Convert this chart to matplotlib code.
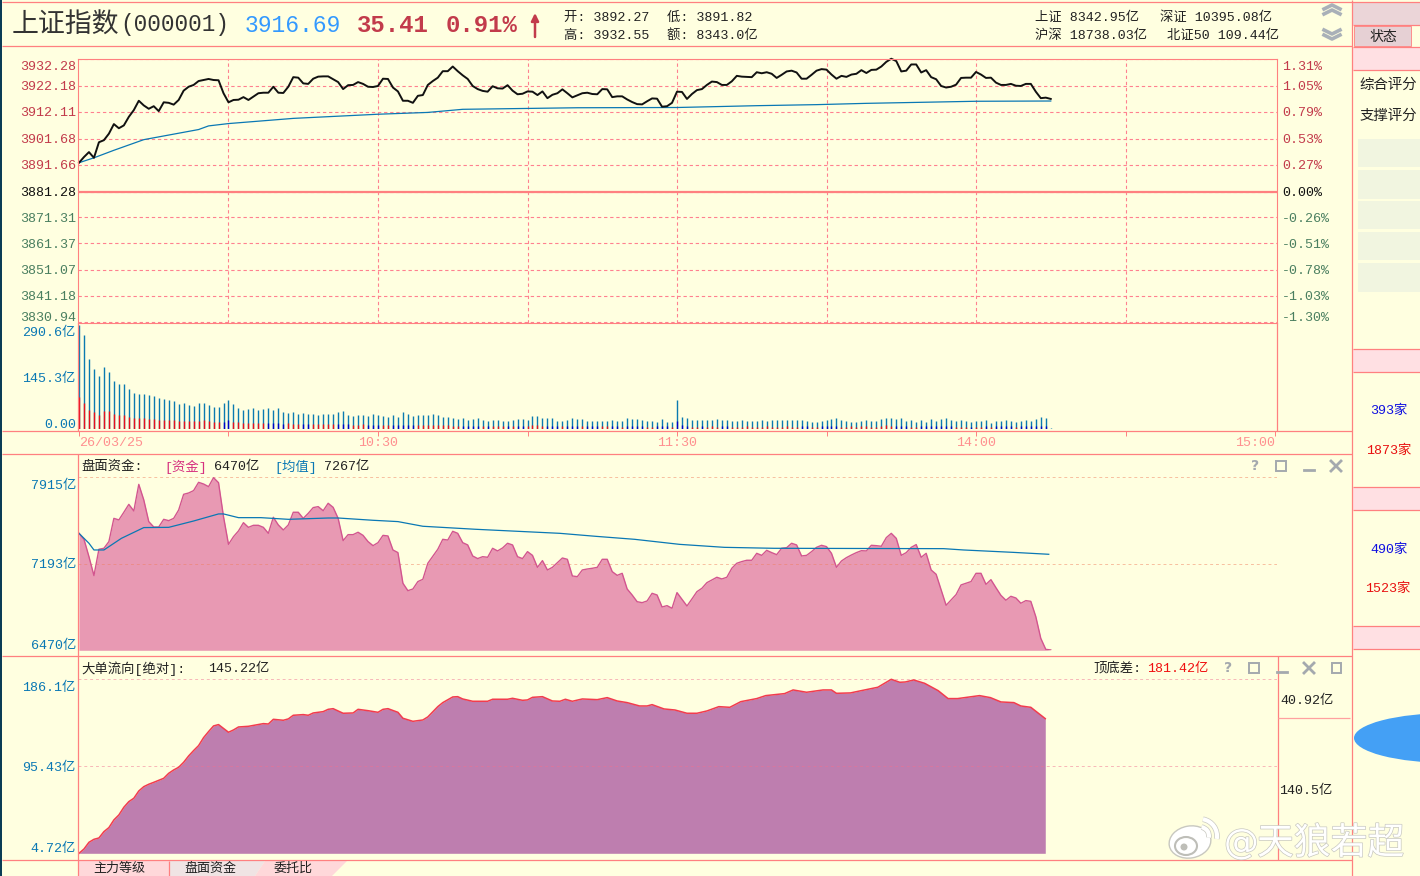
import numpy as np
import matplotlib
matplotlib.use("Agg")
import matplotlib.pyplot as plt
from matplotlib.patches import Rectangle, Ellipse, Polygon, Arc
from matplotlib.transforms import Affine2D
import matplotlib.patheffects as pe

# 分时价格, 每分钟一个点
price = [3892.4, 3894.6, 3896.5, 3894.3, 3900.3, 3901.1, 3903.6, 3907.3, 3905.7, 3906.8,
         3910.1, 3912.7, 3916.3, 3914.5, 3913.2, 3914.2, 3912.3, 3915.7, 3915.5, 3914.8,
         3916.6, 3920.2, 3921.7, 3922.4, 3923.9, 3924.3, 3924.7, 3924.3, 3924.2, 3919.2,
         3915.7, 3916.6, 3916.7, 3917.7, 3916.6, 3917.9, 3919.2, 3919.4, 3919.4, 3921.7,
         3919.4, 3919.3, 3921.7, 3925.4, 3925.2, 3923.0, 3922.8, 3924.8, 3925.6, 3925.7,
         3925.7, 3924.6, 3923.5, 3920.8, 3922.3, 3922.4, 3923.5, 3922.8, 3921.7, 3921.6,
         3922.0, 3924.8, 3924.7, 3921.4, 3919.9, 3916.3, 3916.3, 3915.5, 3918.2, 3918.5,
         3922.4, 3923.9, 3925.2, 3927.7, 3927.7, 3929.5, 3927.7, 3926.1, 3924.7, 3922.0,
         3920.8, 3920.1, 3919.8, 3921.9, 3921.1, 3921.0, 3922.3, 3920.2, 3918.8, 3919.0,
         3919.9, 3919.8, 3918.5, 3919.9, 3917.3, 3918.6, 3919.2, 3920.7, 3919.2, 3917.6,
         3918.4, 3919.2, 3919.4, 3918.9, 3918.8, 3920.8, 3920.7, 3917.7, 3918.0, 3918.0,
         3916.8, 3915.8, 3915.0, 3914.9, 3916.1, 3917.2, 3917.1, 3914.0, 3914.2, 3915.5,
         3919.8, 3919.7, 3917.0, 3918.9, 3920.4, 3920.8, 3922.4, 3923.7, 3923.5, 3922.4,
         3922.4, 3923.8, 3925.9, 3925.6, 3925.5, 3925.4, 3927.3, 3926.9, 3927.3, 3926.7,
         3925.1, 3926.3, 3927.6, 3927.9, 3927.2, 3924.8, 3924.8, 3926.3, 3927.9, 3928.5,
         3928.3, 3926.4, 3924.8, 3925.9, 3925.5, 3926.4, 3926.7, 3928.1, 3927.0, 3928.2,
         3928.3, 3929.5, 3931.3, 3932.5, 3931.6, 3927.6, 3927.9, 3930.3, 3930.3, 3927.2,
         3928.1, 3925.4, 3924.6, 3922.0, 3921.4, 3921.7, 3922.5, 3925.1, 3925.2, 3925.2,
         3927.4, 3926.4, 3925.1, 3925.2, 3923.3, 3922.4, 3922.4, 3922.8, 3922.1, 3922.0,
         3922.8, 3922.8, 3919.8, 3917.3, 3917.5, 3917.0]
avg_minutes = [0, 3, 7, 13, 24, 26, 30, 43, 60, 70, 77, 100, 120, 127, 136, 148, 158, 180, 195]
avg_price = [3892.4, 3894.3, 3897.2, 3901.3, 3905.2, 3906.6, 3907.5, 3909.5, 3911.1, 3911.8,
             3913.0, 3913.6, 3913.7, 3914.0, 3914.4, 3914.8, 3915.3, 3916.1, 3916.2]

price_ticks = [3932.28, 3922.18, 3912.11, 3901.68, 3891.66, 3881.28, 3871.31, 3861.37, 3851.07, 3841.18, 3830.94]
pct_labels = ["1.31%", "1.05%", "0.79%", "0.53%", "0.27%", "0.00%", "-0.26%", "-0.51%", "-0.78%", "-1.03%", "-1.30%"]

# 成交量
volume = [290.5, 262.5, 195.5, 167.6, 148.0, 173.2, 159.2, 134.1, 125.7, 125.7,
          111.7, 100.5, 97.8, 97.8, 94.0, 92.2, 86.6, 83.8, 81.0, 78.2,
          69.8, 72.6, 67.0, 64.2, 72.6,
          72.6, 67.0, 61.4, 61.4, 72.6, 81.0, 69.8, 58.7, 53.1, 55.9,
          58.7, 53.1, 55.9, 58.7, 53.1, 58.7, 47.5, 44.7, 47.5, 41.9,
          44.7, 41.9, 41.9, 39.1, 41.9, 41.9, 41.9, 47.5, 50.3, 39.1,
          36.3, 39.1, 39.1, 36.3, 41.9, 39.1, 36.3, 33.5, 39.1, 33.5,
          47.5, 41.9, 36.3, 39.1, 39.1, 39.1, 41.9, 39.1, 33.5, 33.5,
          30.7, 27.9, 30.7, 25.1, 27.9, 30.7, 25.1, 22.3, 25.1, 25.1,
          22.3, 22.3, 25.1, 27.9, 27.9, 25.1, 36.3, 36.3, 30.7, 30.7,
          30.7, 22.3, 22.3, 25.1, 30.7, 27.9, 27.9, 22.3, 22.3, 22.3,
          22.3, 22.3, 25.1, 22.3,
          22.3, 30.7, 27.9, 27.9, 25.1, 22.3, 22.3, 19.6, 27.9, 19.6,
          19.6, 81.0, 33.5, 30.7, 25.1, 25.1, 25.1, 25.1, 25.1, 27.9,
          25.1, 25.1, 22.3, 22.3, 25.1, 22.3, 22.3, 22.3, 25.1, 22.3,
          25.1, 25.1, 25.1, 25.1, 25.1, 25.1, 25.1, 22.3, 19.6, 19.6,
          22.3, 25.1, 27.9, 30.7, 25.1, 22.3, 19.6, 19.6, 22.3, 25.1,
          22.3, 22.3, 27.9, 30.7, 30.7, 27.9, 30.7, 22.3, 25.1, 19.6,
          25.1, 19.6, 27.9, 22.3, 27.9, 30.7, 25.1, 22.3, 25.1, 22.3,
          19.6, 22.3, 22.3, 25.1, 16.8, 22.3, 22.3, 25.1, 22.3, 19.6,
          22.3, 25.1, 22.3, 27.9, 33.5, 30.7, 2.8]
volume_low = [88.4, 71.7, 53.1, 48.4, 39.1, 50.3, 50.3, 41.9, 39.1, 39.1,
              32.6, 30.7, 30.7, 31.7, 27.9, 27.9, 25.1, 25.1, 25.1, 25.1,
              22.3, 22.3, 21.4, 21.4, 23.3,
              24, 22, 20, 20, 20, 25, 20, 20, 16, 18,
              18, 18, 18, 18, 17, 17, 15, 16, 15, 15,
              13, 14, 13, 13, 13, 13, 13, 14, 14, 13,
              12, 12, 13, 11, 11, 11, 10, 10, 11, 11,
              12, 11, 10, 10, 10, 11, 11, 11, 10, 10,
              9, 9, 8, 8, 8, 8, 8, 7, 8, 8,
              7, 7, 8, 8, 8, 8, 10, 10, 9, 8,
              8, 7, 8, 7, 7, 7, 7, 7, 7, 7,
              7, 7, 7, 7,
              6, 8, 8, 8, 8, 6, 6, 7, 8, 7,
              6, 22, 10, 9, 6, 6, 7, 6, 7, 6,
              7, 7, 6, 6, 6, 7, 6, 6, 6, 7,
              6, 6, 6, 7, 6, 6, 8, 8, 6, 6,
              8, 9, 8, 8, 6, 6, 7, 6, 7, 7,
              6, 6, 7, 11, 8, 9, 9, 8, 6, 6,
              7, 8, 8, 8, 7, 8, 8, 6, 6, 6,
              6, 6, 6, 8, 6, 8, 7, 7, 7, 6,
              7, 7, 7, 8, 9, 9, 1]
volume_side = ("r" * 25
               + "rrrrbbrrrr" "rrrbbbbrrr" "bbrrrrrbbb" "rrrbbbrrbb" "bbbrrrrrrr"
               + "rrbbbbrbrr" "rbrbbrrrrb" "bbrbbbrbbb" "rrbb"
               + "r" "bbbb" "rr" "bbb" "r" "bbb" "rr" "b" "rrr" "bb"
               + "r" * 14 + "bb" "rr" "bbbb" + "r" * 11 + "bbb" "rr" "bbbbbbb"
               + "rrr" "b" "rr" "b" "r" "bbbb" "r" "bbbbbbb")
volume_ticks = [290.6, 145.3, 0]
volume_labels = ["290.6亿", "145.3亿", "0.00"]

# 盘面资金
funds = [7447, 7397, 7252, 7094, 7314, 7322, 7378, 7572, 7559, 7623,
         7689, 7634, 7856, 7726, 7545, 7500, 7500, 7564, 7553, 7572,
         7642, 7773, 7784, 7804, 7873, 7859, 7837, 7912, 7870, 7586,
         7355, 7419, 7467, 7536, 7497, 7514, 7514, 7497, 7447, 7581,
         7517, 7475, 7517, 7623, 7623, 7572, 7614, 7662, 7670, 7636,
         7698, 7664, 7572, 7386, 7436, 7436, 7456, 7430, 7378, 7344,
         7369, 7430, 7425, 7308, 7286, 7030, 6968, 6982, 7044, 7063,
         7197, 7255, 7314, 7397, 7391, 7464, 7447, 7369, 7350, 7258,
         7236, 7252, 7247, 7322, 7300, 7325, 7364, 7350, 7252, 7236,
         7294, 7263, 7163, 7219, 7141, 7163, 7202, 7241, 7230, 7091,
         7085, 7141, 7149, 7155, 7163, 7230, 7230, 7127, 7096, 7113,
         6982, 6932, 6876, 6868, 6882, 6946, 6932, 6832, 6843, 6821,
         6952, 6896, 6840, 6899, 6960, 6988, 7035, 7057, 7080, 7066,
         7080, 7155, 7197, 7211, 7222, 7222, 7280, 7263, 7305, 7286,
         7269, 7322, 7327, 7364, 7350, 7258, 7263, 7294, 7330, 7347,
         7336, 7280, 7163, 7216, 7244, 7266, 7286, 7302, 7300, 7347,
         7344, 7339, 7411, 7447, 7405, 7263, 7286, 7330, 7353, 7247,
         7280, 7141, 7105, 6974, 6846, 6890, 6935, 7016, 7030, 7044,
         7113, 7113, 7021, 7060, 6993, 6929, 6888, 6921, 6907, 6863,
         6885, 6879, 6751, 6570, 6478, 6473]
funds_avg_minutes = [0, 2, 3, 5, 8.5, 13, 18, 23, 28, 29, 32, 36.5, 42, 50, 52, 59, 64, 69, 79.5,
                     96.5, 103.7, 111.5, 120.5, 129.5, 139.5, 173.5, 177.5, 187.5, 194.6]
funds_avg = [7447, 7364, 7308, 7308, 7405, 7495, 7497, 7550, 7609, 7609, 7578, 7578, 7564, 7575, 7575,
             7556, 7545, 7506, 7481, 7447, 7422, 7397, 7355, 7330, 7322, 7319, 7308, 7288, 7272]
funds_ticks = [7915, 7193, 6470]
funds_labels = ["7915亿", "7193亿", "6470亿"]

# 大单流向
flow_minutes = [0, 1, 2, 3, 4, 5, 6, 7, 8, 9, 10, 11, 12, 13, 14, 15, 17, 18, 19, 20, 21, 22, 23, 24, 25,
                26, 27, 28, 30, 31, 32, 34, 37, 38, 39, 41, 42, 43, 45, 46, 47, 49, 50, 51, 53, 55, 56,
                58, 60, 61, 62, 64, 65, 67, 69, 70, 72, 73, 75, 76, 77, 79, 82, 83, 86, 87, 89, 90, 91,
                93, 95, 96.5, 97.6, 99, 101, 104, 106, 108, 110, 112.5, 114, 115, 117.4, 119.6, 122, 124,
                126, 128.4, 130.6, 132.8, 136, 137.8, 141.6, 143.3, 146, 149.3, 151, 152, 154.8, 157,
                160.3, 163, 164.7, 165.8, 167.5, 169.7, 172.4, 174.4, 176.3, 180.7, 182.9, 185, 187.6,
                189, 191, 193.9]
flow = [4.7, 9.2, 16.2, 19.3, 20.7, 27.3, 31.5, 39.5, 44.7, 52.7, 58.6, 62.1, 69.7, 74.2, 76.7, 78.7,
        82.9, 88.1, 91.6, 94.4, 99.6, 106.2, 111.8, 117.0, 125.3, 131.6, 137.5, 138.9, 130.9, 133.3,
        136.4, 137.1, 139.9, 139.5, 144.4, 143.4, 144.8, 148.6, 149.3, 148.6, 151.0, 152.4, 154.8,
        155.5, 150.7, 151.0, 154.8, 153.4, 151.7, 154.8, 155.5, 151.7, 145.5, 142.3, 143.7, 146.9,
        157.6, 161.8, 167.7, 168.0, 165.6, 163.2, 163.2, 165.3, 165.3, 166.3, 164.2, 164.6, 167.3,
        168.0, 163.5, 163.2, 165.3, 163.2, 165.6, 164.9, 167.0, 163.5, 161.8, 158.3, 158.3, 159.7,
        155.2, 154.1, 150.7, 150.7, 153.1, 157.6, 156.9, 162.8, 166.0, 169.1, 171.2, 175.0, 172.6,
        175.0, 175.0, 171.5, 171.9, 174.3, 177.8, 186.1, 183.0, 183.3, 185.4, 181.9, 174.3, 166.0,
        166.0, 169.1, 167.0, 162.5, 161.8, 158.3, 156.9, 145.1]
flow_ticks = [186.1, 95.43, 4.72]
flow_labels = ["186.1亿", "95.43亿", "4.72亿"]

time_ticks = [0, 30, 60, 90, 120, 150, 180, 210, 240]
time_labels = ["26/03/25", "", "10:30", "", "11:30", "", "14:00", "", "15:00"]

BG = "#FFFFE0"
PINK = "#FF8080"
BLUE = "#0A78B4"
RED = "#C23B4B"
GREEN = "#4A7F60"
FONT = ["Liberation Mono", "Noto Sans CJK SC"]
W, H = 1420, 876

plt.rcParams["font.family"] = FONT
fig = plt.figure(figsize=(W / 100, H / 100), dpi=100, facecolor=BG)


def panel(x0, y0, x1, y1):
    # 像素矩形转成 figure 坐标
    ax = fig.add_axes([x0 / W, 1 - y1 / H, (x1 - x0) / W, (y1 - y0) / H])
    ax.patch.set_visible(False)
    ax.set_xlim(-0.2, 240.4)
    ax.set_xticks([])
    for s in ax.spines.values():
        s.set_visible(False)
    return ax


def y_labels(ax, ticks, labels, colors, pad=1.5, fs=9.6):
    ax.set_yticks(ticks)
    ax.set_yticklabels(labels, fontsize=fs)
    ax.tick_params(axis="y", length=0, pad=pad)
    tl = ax.get_yticklabels()
    for t, c in zip(tl, colors):
        t.set_color(c)
    # 最上和最下的标签收进框内
    for t, va in [(tl[0], "top"), (tl[-1], "bottom")]:
        t.set_va(va)
        t.set_transform(t.get_transform() + Affine2D().translate(0, -2))


# 主图
ax = panel(78, 59, 1277, 323)
ax.set_ylim(3830.6, 3932.4)
for s in ax.spines.values():
    s.set_visible(True)
    s.set_color(PINK)
    s.set_linewidth(0.8)
ax.set_xticks(time_ticks[1:-1])
ax.tick_params(axis="x", length=0, labelbottom=False)
ax.grid(True, color="#FF8090", linestyle=(0, (3, 2.5)), linewidth=0.8)
ax.set_axisbelow(True)
ax.axhline(3881.28, color=PINK, linewidth=1.6)
ax.plot(avg_minutes, avg_price, color="#0A78B4", linewidth=0.9, clip_on=False)
ax.plot(range(len(price)), price, color="#111111", linewidth=1.4, clip_on=False)
label_colors = [RED] * 5 + ["#111111"] + [GREEN] * 5
y_labels(ax, price_ticks, [f"{v:.2f}" for v in price_ticks], label_colors)
ax2 = ax.twinx()
ax2.set_ylim(ax.get_ylim())
ax2.patch.set_visible(False)
for s in ax2.spines.values():
    s.set_visible(False)
y_labels(ax2, price_ticks, pct_labels, label_colors, pad=3.5)

# 成交量
ax_vol = panel(78, 325, 1277, 429)
ax_vol.set_ylim(0, 290.6)
m = np.arange(len(volume))
low_colors = ["#E8101C" if c == "r" else "#0000C8" for c in volume_side]
ax_vol.vlines(m, 0, volume, color="#0A7AB0", linewidth=1.0)
ax_vol.vlines(m, 0, volume_low, colors=low_colors, linewidth=1.0)
y_labels(ax_vol, volume_ticks, volume_labels, [BLUE] * 3)

# 时间轴刻度放在量图下面
ax_time = panel(78, 323, 1277, 431)
ax_time.set_yticks([])
ax_time.set_xticks(time_ticks)
ax_time.set_xticklabels(time_labels, fontsize=9.6, color="#FF9090")
ax_time.tick_params(axis="x", direction="out", length=3.5, width=0.7, color=PINK, pad=0.5)
first, last = ax_time.get_xticklabels()[0], ax_time.get_xticklabels()[-1]
first.set_ha("left")
last.set_ha("right")

# 盘面资金
ax_funds = panel(78, 477.3, 1277, 650.3)
ax_funds.set_ylim(6470, 7915)
mf = np.arange(len(funds))
ax_funds.fill_between(mf, 6470, funds, color="#E899B3", linewidth=0)
ax_funds.plot(mf, funds, color="#D2558F", linewidth=1.0)
ax_funds.plot(funds_avg_minutes, funds_avg, color="#0A78B4", linewidth=0.9)
y_labels(ax_funds, funds_ticks, funds_labels, [BLUE] * 3)
ax_funds.grid(True, axis="y", color="#F08060", alpha=0.5, linestyle=(0, (3, 3)), linewidth=0.7)

# 大单流向
ax_flow = panel(78, 679.3, 1277, 853.3)
ax_flow.set_ylim(4.72, 186.1)
ax_flow.fill_between(flow_minutes, 4.72, flow, color="#BE7EAF", linewidth=0, clip_on=False)
ax_flow.plot(flow_minutes, flow, color="#F23C4E", linewidth=1.1, clip_on=False)
y_labels(ax_flow, flow_ticks, flow_labels, [BLUE] * 3)
ax_flow.grid(True, axis="y", color="#F07090", alpha=0.5, linestyle=(0, (3, 3)), linewidth=0.7)

# 外框, 文字都画在覆盖层上
ov = fig.add_axes([0, 0, 1, 1], zorder=10)
ov.set_xlim(0, W)
ov.set_ylim(H, 0)
ov.axis("off")


def hl(y, x0=0, x1=W, lw=0.9, c=PINK):
    ov.plot([x0, x1], [y, y], color=c, linewidth=lw, solid_capstyle="butt")


def vl(x, y0, y1, lw=0.9, c=PINK):
    ov.plot([x, x], [y0, y1], color=c, linewidth=lw, solid_capstyle="butt")


def txt(x, y, s, color="#222222", fs=9.6, ha="left", family=FONT, **kw):
    ov.text(x, y + 1.5, s, color=color, fontsize=fs, ha=ha, va="center", family=family, **kw)


ov.add_patch(Rectangle((0, 0), 2, H, color="#0A3C55", lw=0))
hl(2, 2, W)
hl(46, 2, 1352)
hl(431, 2, 1352)
hl(454, 2, 1352)
hl(656, 2, 1352)
hl(860, 2, 1352)
vl(78, 323, 431)
vl(1277, 323, 431)
vl(78, 454, 656)
vl(78, 656, 876)
vl(1278, 656, 860)
hl(718, 1278, 1350, c="#FFA0A0")
vl(1352, 0, 876)

# 标题
txt(12, 24, "上证指数", "#333333", fs=19.4, family="Noto Sans CJK SC")
txt(120, 23.5, "(000001)", "#333333", fs=16.4, family="Liberation Mono")
txt(245, 24, "3916.69", "#3399FF", fs=16.6, family="Liberation Mono")
txt(357, 24, "35.41", RED, fs=17.2, family="Liberation Mono", fontweight="bold")
txt(446, 24, "0.91%", RED, fs=17.2, family="Liberation Mono", fontweight="bold")
ov.annotate("", xy=(535, 13), xytext=(535, 37),
            arrowprops=dict(arrowstyle="-|>", color=RED, lw=1.8, mutation_scale=11, shrinkA=0, shrinkB=0))
txt(564, 16, "开: 3892.27")
txt(667, 16, "低: 3891.82")
txt(564, 34, "高: 3932.55")
txt(667, 34, "额: 8343.0亿")
txt(1035, 16, "上证 8342.95亿")
txt(1160, 16, "深证 10395.08亿")
txt(1035, 34, "沪深 18738.03亿")
txt(1167, 34, "北证50 109.44亿")

# 翻页箭头
for yc, sgn in [(9, -1), (14, -1), (30, 1), (35, 1)]:
    ov.plot([1324, 1332, 1340], [yc, yc + sgn * 4, yc], color="#A9B0B8", linewidth=2.6)

# 副图标题
txt(81, 465, "盘面资金:")
txt(164, 465, "[资金]", "#D6307F")
txt(214, 465, "6470亿")
txt(274, 465, "[均值]", BLUE)
txt(324, 465, "7267亿")
txt(81, 667, "大单流向[绝对]:")
txt(208, 667, "145.22亿")
txt(1093, 667, "顶底差:")
txt(1147, 667, "181.42亿", "#F01010")
txt(1280, 699, "40.92亿")
txt(1279, 789, "140.5亿")


def icons(xs, y):
    gray = "#A4A9AE"
    ov.text(xs[0], y, "?", color=gray, fontsize=10, ha="center", va="center",
            family="DejaVu Sans", fontweight="bold")
    ov.add_patch(Rectangle((xs[1] - 5, y - 5), 10, 10, fill=False, ec=gray, lw=1.4))
    ov.plot([xs[2] - 5, xs[2] + 5], [y + 4, y + 4], color=gray, lw=2)
    ov.plot([xs[3] - 5, xs[3] + 5], [y - 5, y + 5], color=gray, lw=2)
    ov.plot([xs[3] - 5, xs[3] + 5], [y + 5, y - 5], color=gray, lw=2)


icons([1255, 1281, 1309, 1336], 466)
icons([1228, 1254, 1282, 1309], 668)
ov.add_patch(Rectangle((1332, 663), 9, 10, fill=False, ec="#A4A9AE", lw=1.4))

# 右侧栏
ov.add_patch(Rectangle((1353, 3), 67, 22, color="#EBD5D8", lw=0))
ov.add_patch(Rectangle((1354, 26), 57, 20, fc="#E6D0D4", ec=PINK, lw=0.6))
txt(1383, 36, "状态", ha="center", fs=10)
hl(25, 1353, W)
hl(47, 1353, W)
ov.add_patch(Rectangle((1353, 48), 67, 22, color="#FFE0E3", lw=0))
hl(70, 1353, W)
txt(1359, 83, "综合评分", fs=10.4)
txt(1359, 114, "支撑评分", fs=10.4)
for y0, y1 in [(139, 167), (170, 199), (201, 229), (232, 260), (263, 292)]:
    ov.add_patch(Rectangle((1358, y0), 62, y1 - y0, color="#F1F5E0", lw=0))
for y0 in [349, 487, 626]:
    ov.add_patch(Rectangle((1353, y0), 67, 23, color="#FFE0E3", lw=0))
    hl(y0, 1353, W)
    hl(y0 + 23, 1353, W)
txt(1389, 409, "393家", "#1010E0", ha="center")
txt(1389, 449, "1873家", "#E81010", ha="center")
txt(1389, 548, "490家", "#1010E0", ha="center")
txt(1388, 587, "1523家", "#E81010", ha="center")
ov.add_patch(Ellipse((1450, 738), 192, 50, color="#44A0F5", lw=0))

# 底部标签
ov.add_patch(Rectangle((79, 861), 90, 15, color="#FFD8DA", lw=0))
ov.add_patch(Polygon([(169, 861), (265, 861), (255, 876), (169, 876)], color="#F0E4E4", lw=0))
ov.add_patch(Polygon([(265, 861), (347, 861), (332, 876), (255, 876)], color="#FFD8DA", lw=0))
vl(169, 861, 876)
txt(93, 867, "主力等级", fs=9.4)
txt(184, 867, "盘面资金", fs=9.4)
txt(274, 867, "委托比", fs=9.4)

# 水印
halo = [pe.withStroke(linewidth=1.0, foreground="#C8C8C0")]
txt(1224, 842, "@", "#FFFFFF", fs=25, family="DejaVu Sans", path_effects=halo)
txt(1257, 842, "天狼若超", "#FFFFFF", fs=26.5, family="Noto Sans CJK SC", path_effects=halo)
ov.add_patch(Ellipse((1190, 842), 42, 32, angle=-10, fc="#FFFFFF", ec="#C8C8C0", lw=1))
ov.add_patch(Ellipse((1186, 846), 22, 18, fc="none", ec="#BEBEB8", lw=1.5))
ov.add_patch(Ellipse((1184, 847), 7, 7, fc="#BEBEB8", lw=0))
for r in [9, 17]:
    ov.add_patch(Arc((1200, 836), r * 2, r * 2, theta1=-80, theta2=10, color="#FFFFFF", lw=3,
                     path_effects=[pe.withStroke(linewidth=4, foreground="#C8C8C0")]))

fig.savefig("out.png", dpi=100, facecolor=BG)
